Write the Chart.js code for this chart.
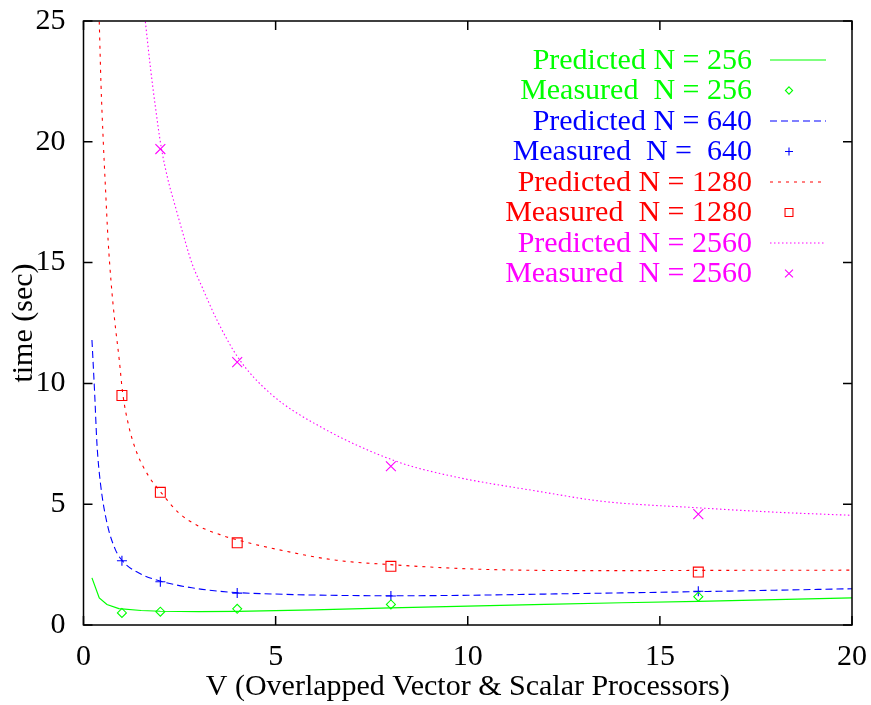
<!DOCTYPE html>
<html>
<head>
<meta charset="utf-8">
<script src="https://cdn.jsdelivr.net/npm/chart.js@4.4.0/dist/chart.umd.min.js"></script>
<style>
html,body{margin:0;padding:0;background:#fff;}
#wrap{width:871px;height:705px;}
</style>
</head>
<body>
<div id="wrap"><canvas id="c" width="871" height="705"></canvas></div>
<script>
// ---- data ----
const xTicks = [0, 5, 10, 15, 20];
const yTicks = [0, 5, 10, 15, 20, 25];

const vMeasured = [1, 2, 4, 8, 16];
const vMeasured2560 = [2, 4, 8, 16];
const measured256 = [0.50, 0.55, 0.67, 0.85, 1.17];
const measured640 = [2.66, 1.79, 1.32, 1.20, 1.40];
const measured1280 = [9.50, 5.49, 3.40, 2.43, 2.19];
const measured2560 = [19.70, 10.88, 6.57, 4.59];

const vPred256 = [0.22, 0.41, 0.61, 0.92, 1.5, 2.0, 3.0, 4.0, 6, 8, 10, 12, 14, 16, 18, 20];
const tPred256 = [1.95, 1.12, 0.85, 0.68, 0.60, 0.57, 0.55, 0.56, 0.63, 0.71, 0.78, 0.85, 0.92, 0.98, 1.05, 1.12];

const vPred640 = [0.22, 0.29, 0.35, 0.44, 0.61, 0.83, 1.02, 1.52, 2.02, 2.82, 3.82, 5, 6, 8, 10, 12, 14, 16, 18, 20];
const tPred640 = [11.8, 9.6, 7.5, 5.88, 4.23, 3.12, 2.64, 2.09, 1.81, 1.54, 1.36, 1.28, 1.24, 1.21, 1.23, 1.28, 1.33, 1.38, 1.44, 1.50];

const vPred1280 = [0.41, 0.455, 0.515, 0.57, 0.64, 0.72, 0.81, 0.93, 1.02, 1.18, 1.39, 1.70, 2.02, 2.48, 3.0, 3.55, 3.82, 5.28, 6.58, 7.97, 10.49, 13.95, 16, 20];
const tPred1280 = [24.97, 22.4, 20.0, 18.15, 15.94, 14.15, 12.63, 10.98, 9.6, 8.22, 7.12, 6.15, 5.48, 4.64, 4.09, 3.74, 3.6, 3.05, 2.68, 2.50, 2.30, 2.25, 2.26, 2.27];

const vPred2560 = [1.61, 1.74, 1.87, 2.02, 2.20, 2.39, 2.56, 2.82, 3.08, 3.47, 4.03, 4.85, 6.15, 8.15, 9.62, 11.85, 13.5, 16, 18, 20];
const tPred2560 = [24.97, 23.1, 21.46, 19.8, 18.42, 17.32, 16.36, 14.98, 14.01, 12.63, 11.05, 9.6, 8.22, 6.77, 6.15, 5.53, 5.12, 4.85, 4.67, 4.54];

const legendLabels = [
  'Predicted N = 256', 'Measured  N = 256',
  'Predicted N = 640', 'Measured  N =  640',
  'Predicted N = 1280', 'Measured  N = 1280',
  'Predicted N = 2560', 'Measured  N = 2560'
];
const xTitle = 'V (Overlapped Vector & Scalar Processors)';
const yTitle = 'time (sec)';

// ---- styling ----
const FONT = 'Liberation Serif';
const FS = 30;
const GREEN = '#00ff00', BLUE = '#0000ff', RED = '#ff0000', MAG = '#ff00ff';

function pts(xs, ys) { return xs.map((x, i) => ({x: x, y: ys[i]})); }

function lineDs(label, xs, ys, color, dash, width, smooth) {
  return {label, data: pts(xs, ys), showLine: true, borderColor: color, backgroundColor: color,
    borderWidth: width, borderDash: dash, pointRadius: 0, pointHoverRadius: 0,
    cubicInterpolationMode: smooth ? 'monotone' : 'default', tension: 0, fill: false};
}
function markDs(label, xs, ys, color, style, r) {
  return {label, data: pts(xs, ys), showLine: false, borderColor: color, backgroundColor: 'rgba(0,0,0,0)',
    pointStyle: style, pointRadius: r, pointBorderWidth: 1.1, pointHoverRadius: r};
}

const datasets = [
  lineDs(legendLabels[0], vPred256, tPred256, GREEN, [], 1.2, false),
  markDs(legendLabels[1], vMeasured, measured256, GREEN, 'rectRot', 4.5),
  lineDs(legendLabels[2], vPred640, tPred640, BLUE, [7, 4], 1.1, true),
  markDs(legendLabels[3], vMeasured, measured640, BLUE, 'cross', 5),
  lineDs(legendLabels[4], vPred1280, tPred1280, RED, [3, 5], 1.1, true),
  markDs(legendLabels[5], vMeasured, measured1280, RED, 'rect', 7),
  lineDs(legendLabels[6], vPred2560, tPred2560, MAG, [1.5, 2.5], 1.1, true),
  markDs(legendLabels[7], vMeasured2560, measured2560, MAG, 'crossRot', 7)
];

function drawMarker(ctx, style, x, y, r) {
  ctx.beginPath();
  if (style === 'rectRot') {
    ctx.moveTo(x, y - r); ctx.lineTo(x + r, y); ctx.lineTo(x, y + r); ctx.lineTo(x - r, y); ctx.closePath();
  } else if (style === 'cross') {
    ctx.moveTo(x - r, y); ctx.lineTo(x + r, y); ctx.moveTo(x, y - r); ctx.lineTo(x, y + r);
  } else if (style === 'rect') {
    const s = r * Math.SQRT1_2; ctx.rect(x - s, y - s, 2 * s, 2 * s);
  } else if (style === 'crossRot') {
    const s = r * Math.SQRT1_2;
    ctx.moveTo(x - s, y - s); ctx.lineTo(x + s, y + s); ctx.moveTo(x - s, y + s); ctx.lineTo(x + s, y - s);
  }
  ctx.stroke();
}

const framePlugin = {
  id: 'frame',
  afterDraw(chart) {
    const {ctx, chartArea: a, scales} = chart;
    ctx.save();
    ctx.strokeStyle = '#000';
    ctx.lineWidth = 1.5;
    ctx.setLineDash([]);
    ctx.strokeRect(a.left, a.top, a.right - a.left, a.bottom - a.top);
    const L = 9;
    ctx.beginPath();
    xTicks.forEach(v => {
      const px = scales.x.getPixelForValue(v);
      ctx.moveTo(px, a.bottom); ctx.lineTo(px, a.bottom - L);
      ctx.moveTo(px, a.top); ctx.lineTo(px, a.top + L);
    });
    yTicks.forEach(v => {
      const py = scales.y.getPixelForValue(v);
      ctx.moveTo(a.left, py); ctx.lineTo(a.left + L, py);
      ctx.moveTo(a.right, py); ctx.lineTo(a.right - L, py);
    });
    ctx.stroke();

    // key inside the plot: text right-aligned, sample to its right
    const textRight = 752, lineX0 = 770, lineX1 = 826, markX = 789;
    const rowY0 = 60, rowStep = 30.5;
    ctx.font = FS + 'px "' + FONT + '"';
    ctx.textAlign = 'right';
    ctx.textBaseline = 'middle';
    chart.data.datasets.forEach((ds, i) => {
      const y = rowY0 + i * rowStep;
      ctx.fillStyle = ds.borderColor;
      ctx.fillText(ds.label, textRight, y + 1);
      ctx.strokeStyle = ds.borderColor;
      if (ds.showLine) {
        ctx.lineWidth = ds.borderWidth;
        ctx.setLineDash(ds.borderDash || []);
        ctx.beginPath(); ctx.moveTo(lineX0, y); ctx.lineTo(lineX1, y); ctx.stroke();
        ctx.setLineDash([]);
      } else {
        ctx.lineWidth = 1.1;
        drawMarker(ctx, ds.pointStyle, markX, y, ds.pointRadius * 0.8);
      }
    });
    ctx.restore();
  }
};

function zeroPad(s) { s.paddingTop = 0; s.paddingBottom = 0; s.paddingLeft = 0; s.paddingRight = 0; }

new Chart(document.getElementById('c'), {
  type: 'scatter',
  data: {datasets},
  plugins: [framePlugin],
  options: {
    responsive: false,
    animation: false,
    devicePixelRatio: 1,
    layout: {padding: {top: 21, right: 19, left: 0, bottom: 0}},
    plugins: {legend: {display: false}, tooltip: {enabled: false}},
    scales: {
      x: {
        type: 'linear', min: 0, max: 20,
        afterBuildTicks(s) { s.ticks = xTicks.map(v => ({value: v})); },
        afterFit(s) { s.height = 80; zeroPad(s); },
        ticks: {color: '#000', font: {family: FONT, size: FS}, padding: 14, maxRotation: 0},
        grid: {display: false, drawTicks: false, tickLength: 0},
        border: {display: false},
        title: {display: true, text: xTitle, color: '#000', font: {family: FONT, size: FS}, padding: {top: 0, bottom: 0}}
      },
      y: {
        type: 'linear', min: 0, max: 25,
        afterBuildTicks(s) { s.ticks = yTicks.map(v => ({value: v})); },
        afterFit(s) { s.width = 83.5; zeroPad(s); },
        ticks: {color: '#000', font: {family: FONT, size: FS}, padding: 18},
        grid: {display: false, drawTicks: false, tickLength: 0},
        border: {display: false},
        title: {display: true, text: yTitle, color: '#000', font: {family: FONT, size: FS}, padding: {top: 6, bottom: 0}}
      }
    }
  }
});
</script>
</body>
</html>
